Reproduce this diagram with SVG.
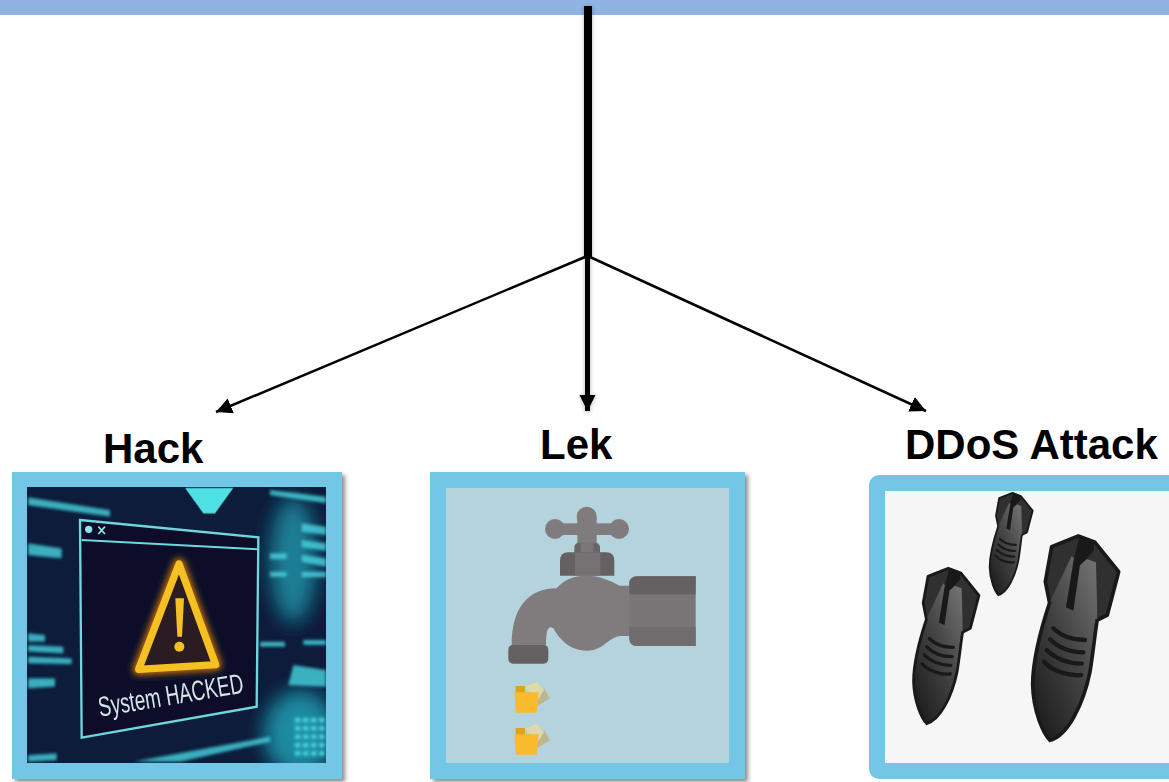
<svg xmlns="http://www.w3.org/2000/svg" width="1169" height="782" viewBox="0 0 1169 782">
<style>
.label{font-family:"Liberation Sans",Arial,sans-serif;font-weight:700;font-size:42px;fill:#000}
.frame{fill:#73c6e6}
.conn{stroke:#000;fill:none}
.bl{fill:#49d4e0;opacity:.8}
.win{fill:none;stroke:#6fd8dc;stroke-width:7}
.rib{fill:none;stroke:#191919;stroke-width:13;stroke-linecap:round}
.fin{fill:#303030;stroke:#191919;stroke-width:11;stroke-linejoin:round}
</style>
<defs>
<filter id="sh" x="-5%" y="-5%" width="112%" height="112%"><feDropShadow dx="3" dy="3" stdDeviation="2" flood-color="#000" flood-opacity=".45"/></filter>
<filter id="lsh" filterUnits="userSpaceOnUse" x="0" y="0" width="1169" height="782"><feDropShadow dx="0" dy="1" stdDeviation="2" flood-color="#000" flood-opacity=".3"/></filter>
<filter id="b1"><feGaussianBlur stdDeviation="2"/></filter>
<filter id="b2" x="-30%" y="-30%" width="160%" height="160%"><feGaussianBlur stdDeviation="10"/></filter>
<filter id="b3" x="-50%" y="-50%" width="200%" height="200%"><feGaussianBlur stdDeviation="30"/></filter>
<filter id="soft" x="-5%" y="-5%" width="110%" height="110%"><feGaussianBlur stdDeviation="5"/></filter>
<marker id="arr" markerUnits="userSpaceOnUse" markerWidth="18" markerHeight="18" refX="16" refY="8" orient="auto"><path d="M0 0L16 8L0 16Z" fill="#000"/></marker>
<clipPath id="hc"><rect x="84" y="84" width="894" height="825"/></clipPath>
<linearGradient id="bg" x1="0.9" y1="0.05" x2="0.15" y2="0.95"><stop offset="0" stop-color="#6e6e6e"/><stop offset=".45" stop-color="#454545"/><stop offset="1" stop-color="#1e1e1e"/></linearGradient>
<g id="folder">
<path d="M287 678H315V702H287Z" fill="#dca31d"/>
<path d="M355 702L372 685L390 715L352 738Z" fill="#bdb68f"/>
<path d="M315 680L350 665L372 690L352 722Z" fill="#ddd9a8"/>
<path d="M283 697H356L350 758H288Z" fill="#f9bb2d"/>
</g>
<g id="bomb">
<path class="fin" d="M575 245L655 213L705 232L776 320L742 450L712 465L700 440L568 410L556 350Z"/>
<path d="M635 272L570 410C540 500 518 590 518 660C520 740 550 805 570 826C622 812 670 720 690 620C700 560 704 510 712 462L708 292L680 282L660 300Z" fill="url(#bg)"/>
<path d="M570 410C540 500 518 590 518 660C520 740 550 805 570 826C622 812 670 720 690 620C700 560 704 510 712 462" fill="none" stroke="#191919" stroke-width="11"/>
<path d="M658 215L702 234L702 255L680 282L660 300L640 437L618 427L640 290Z" fill="#191919"/>
<path class="rib" d="M580 490C600 510 630 525 675 525"/>
<path class="rib" d="M570 523C595 548 630 562 670 562"/>
<path class="rib" d="M560 555C585 580 625 597 665 596"/>
<path class="rib" d="M552 590C575 615 620 635 663 630"/>
</g>
</defs>
<rect x="0" y="0" width="1169" height="15" fill="#8eb4e3"/>
<g id="connectors">
<path class="conn" stroke-width="8" filter="url(#lsh)" d="M588 6V258"/>
<path class="conn" stroke-width="5" filter="url(#lsh)" d="M587.500 257V411" marker-end="url(#arr)"/>
<path class="conn" stroke-width="2.500" d="M585 257L216 412" marker-end="url(#arr)"/>
<path class="conn" stroke-width="2.500" d="M590 257L926 411" marker-end="url(#arr)"/>
</g>
<g id="hack">
<text class="label" x="103" y="463">Hack</text>
<rect class="frame" x="12" y="472" width="330" height="307" filter="url(#sh)"/>
<g transform="translate(0 460) scale(.33333)">
<g clip-path="url(#hc)">
<g filter="url(#b1)">
<rect x="60" y="60" width="940" height="870" fill="#0a1b3a"/>
<ellipse cx="880" cy="300" rx="70" ry="190" fill="#1d7f96" filter="url(#b3)"/>
<ellipse cx="900" cy="820" rx="110" ry="130" fill="#1c8ba3" filter="url(#b3)"/>
<path d="M555 84H700L645 160H610Z" fill="#4fe0e4"/>
<g filter="url(#soft)">
<path class="bl" d="M84 112L330 150V170L84 135Z"/>
<path class="bl" d="M84 250L185 265V295L84 285Z"/>
<path class="bl" d="M84 520L135 525V545L84 545ZM84 555L190 560V580L84 575ZM84 590L215 595V612L84 610ZM84 655L165 655V680L84 685Z"/>
<path class="bl" d="M810 90L978 110V130L810 105ZM905 190L978 200V225L905 215ZM905 240L978 250V272L905 262ZM905 285L978 295V320L905 305ZM810 280H860V298H810ZM810 335H860V350H810ZM905 335H978V352H905Z"/>
<path class="bl" d="M780 545H855V560H780ZM910 540H978V555H910ZM880 615L978 630V680L865 675Z"/>
<path d="M885 780H978M885 805H978M885 830H978M885 855H978M885 880H978" stroke="#49d4e0" stroke-width="14" stroke-dasharray="16 8" fill="none"/>
<path class="bl" d="M84 885L170 880V900L84 905Z"/>
<path class="bl" d="M400 905L810 830V845L540 905Z" opacity=".45"/>
</g>
<path d="M240 180L775 232L770 740L245 833Z" fill="#070f2c"/>
<path class="win" d="M240 180L775 232L770 740L245 833Z"/>
<path d="M245 240L773 268" stroke="#6fd8dc" stroke-width="6" fill="none"/>
<circle cx="266" cy="208" r="11" fill="#8fe4e6"/>
<path d="M295 200L315 222M315 200L295 222" stroke="#8fe4e6" stroke-width="5"/>
<path d="M537 312L647 614L416 628Z" fill="#5a3410" stroke="#b8660f" stroke-width="38" stroke-linejoin="round" filter="url(#b2)"/>
<path d="M537 312L647 614L416 628Z" fill="#2b1c22" stroke="#f5c020" stroke-width="22" stroke-linejoin="round"/>
<path d="M526 415H552L546 530H532Z" fill="#f5c020"/>
<circle cx="538" cy="560" r="15" fill="#f5c020"/>
<text transform="translate(300 770) rotate(-9.500)" font-family="Liberation Sans,Arial,sans-serif" font-size="84" fill="#d8e4e6" textLength="440" lengthAdjust="spacingAndGlyphs">System HACKED</text>
</g>
</g>
</g>
</g>
<g id="lek">
<text class="label" x="540" y="459">Lek</text>
<rect class="frame" x="430" y="472" width="315" height="307" filter="url(#sh)"/>
<rect x="446" y="488" width="283" height="275" fill="#b5d3dc"/>
<g transform="translate(420 460) scale(.33333)">
<g fill="#807c7d">
<circle cx="405" cy="207" r="30"/><circle cx="597" cy="207" r="30"/><circle cx="500" cy="170" r="30"/>
<rect x="405" y="190" width="192" height="35"/><rect x="472" y="170" width="58" height="85"/>
</g>
<rect x="463" y="248" width="77" height="40" rx="14" fill="#6a6667"/>
<rect x="482" y="248" width="38" height="40" fill="#7b7778"/>
<path d="M420 347V302Q420 277 445 277H558Q583 277 583 302V347Z" fill="#656162"/>
<rect x="465" y="277" width="76" height="70" fill="#767273"/>
<path d="M275 555C275 450 320 385 410 385C430 360 460 347 500 347C540 347 570 362 600 377H635V528H600C560 535 550 572 500 572C450 572 420 540 400 505C385 495 378 510 378 555Z" fill="#807c7d"/>
<path d="M652 349H827V558H652Q628 558 628 535V372Q628 349 652 349Z" fill="#7a7677"/>
<path d="M652 349H827V403H628V372Q628 349 652 349Z" fill="#656162"/>
<path d="M628 500H827V558H652Q628 558 628 535Z" fill="#716d6e"/>
<rect x="265" y="555" width="120" height="56" rx="14" fill="#656162"/>
<use href="#folder"/>
<use href="#folder" y="126"/>
</g>
</g>
<g id="ddos">
<text class="label" x="905" y="459">DDoS Attack</text>
<rect class="frame" x="869" y="475" width="320" height="304" rx="10"/>
<rect x="885" y="491" width="284" height="272" fill="#f6f6f6"/>
<g transform="translate(860 465) scale(.33333)">
<use href="#bomb"/>
<use href="#bomb" transform="translate(-233 148) scale(.76)"/>
<use href="#bomb" transform="translate(130 -23) scale(.5)"/>
</g>
</g>
</svg>
